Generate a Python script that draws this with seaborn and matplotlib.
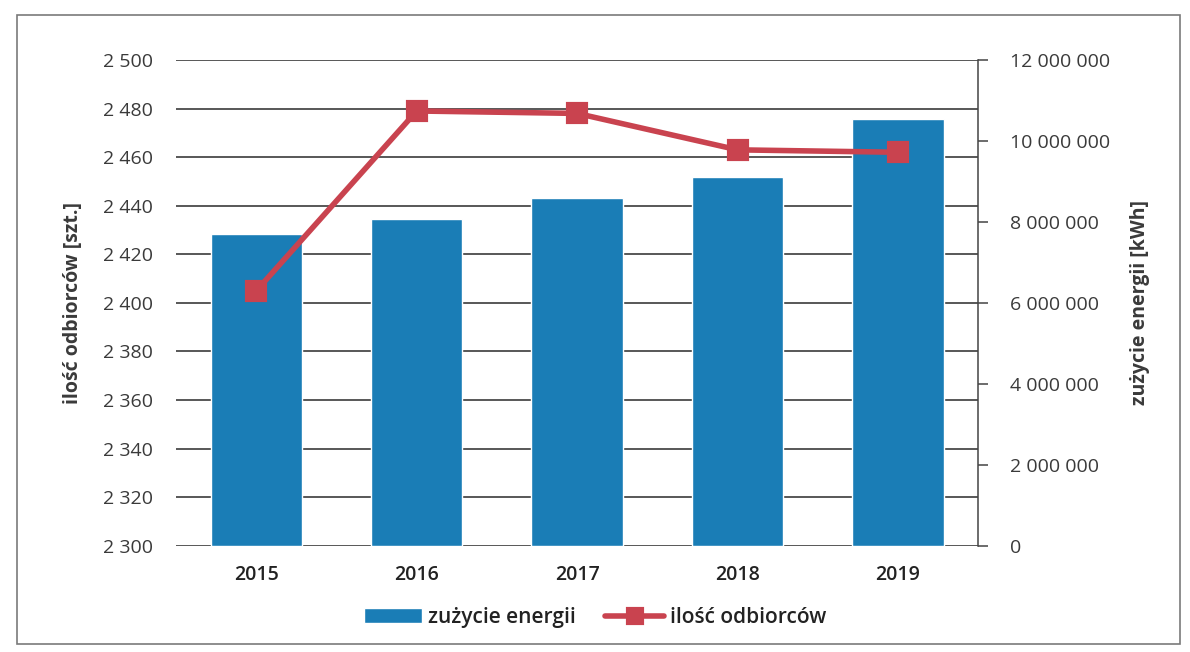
import matplotlib
matplotlib.use("Agg")
import matplotlib.pyplot as plt
import seaborn as sns
import pandas as pd
from matplotlib.ticker import MultipleLocator, FuncFormatter
from matplotlib.patches import Rectangle

# Data
years = ["2015", "2016", "2017", "2018", "2019"]
energy_kwh = [7710000, 8080000, 8600000, 9110000, 10540000]
customers = [2405, 2479, 2478, 2463, 2462]

df = pd.DataFrame({"rok": years, "energia": energy_kwh, "odbiorcy": customers})

# Styles
sns.set_style("white")
plt.rcParams["font.family"] = ["Open Sans", "DejaVu Sans"]
bar_colour = "#1A7DB6"
line_colour = "#C9434F"
text_colour = "#3A3A3A"


def spaced(v, pos):
    return f"{v:,.0f}".replace(",", " ")


fig = plt.figure(figsize=(11.9, 6.52), dpi=100)
ax = fig.add_axes([0.148, 0.163, 0.674, 0.745])

# bars -> right-hand axis (kWh), drawn on the primary axes so the line stays on top
sns.barplot(data=df, x="rok", y="energia", color=bar_colour, width=0.57,
            saturation=1, label="zużycie energii", ax=ax, zorder=2)

# line -> left-hand axis (customers)
ax2 = ax.twinx()
sns.pointplot(data=df, x="rok", y="odbiorcy", color=line_colour, marker="s",
              markersize=13, linewidth=4, label="ilość odbiorców", ax=ax2)

# right axis (bars)
ax.set_ylim(0, 12000000)
ax.yaxis.tick_right()
ax.yaxis.set_label_position("right")
ax.yaxis.set_major_locator(MultipleLocator(2000000))
ax.yaxis.set_major_formatter(FuncFormatter(spaced))
# gridlines follow the left axis scale (every 20 customers)
ax.yaxis.set_minor_locator(MultipleLocator(1200000))
ax.yaxis.remove_overlapping_locs = False
ax.grid(False)
ax.grid(which="minor", axis="y", color="#2A2A2A", linewidth=1.1, zorder=0)
ax.set_axisbelow(True)
ax.tick_params(axis="y", which="major", direction="out", length=7, width=1.1,
               color="#444444", pad=16, labelsize=14, labelcolor=text_colour,
               right=True, left=False, labelright=True, labelleft=False)
ax.tick_params(axis="y", which="minor", length=0, left=False, right=False)
ax.tick_params(axis="x", length=0, pad=14, labelsize=14, labelcolor="#222222")
for lbl in ax.get_xticklabels():
    lbl.set_fontweight("semibold")
for s in ["top", "left", "bottom"]:
    ax.spines[s].set_visible(False)
ax.spines["right"].set_color("#444444")
ax.spines["right"].set_linewidth(1.1)
ax.set_xlabel("")
ax.set_ylabel("zużycie energii [kWh]", fontsize=14, fontweight="bold",
              color=text_colour, labelpad=14)

# left axis (line)
ax2.set_ylim(2300, 2500)
ax2.yaxis.tick_left()
ax2.yaxis.set_label_position("left")
ax2.yaxis.set_major_locator(MultipleLocator(20))
ax2.yaxis.set_major_formatter(FuncFormatter(spaced))
ax2.tick_params(axis="y", length=0, pad=17, labelsize=14, labelcolor=text_colour,
                left=True, right=False, labelleft=True, labelright=False)
for s in ax2.spines.values():
    s.set_visible(False)
ax2.set_xlabel("")
ax2.set_ylabel("ilość odbiorców [szt.]", fontsize=14, fontweight="bold",
               color=text_colour, labelpad=14)

# legend below the plot
h1, l1 = ax.get_legend_handles_labels()
h2, l2 = ax2.get_legend_handles_labels()
for leg in [ax.get_legend(), ax2.get_legend()]:
    if leg is not None:
        leg.remove()
fig.legend(h1 + h2, l1 + l2, loc="center", bbox_to_anchor=(0.5, 0.053), ncol=2,
           frameon=False, prop={"size": 15, "weight": "semibold"}, handlelength=2.8,
           columnspacing=1.4, handletextpad=0.3, labelcolor="#222222", markerscale=0.8)

# chart border
fig.patches.append(Rectangle((0.014, 0.012), 0.978, 0.965, transform=fig.transFigure,
                             fill=False, edgecolor="#7A7A7A", linewidth=1.2))

plt.savefig("out.png", dpi=100)
